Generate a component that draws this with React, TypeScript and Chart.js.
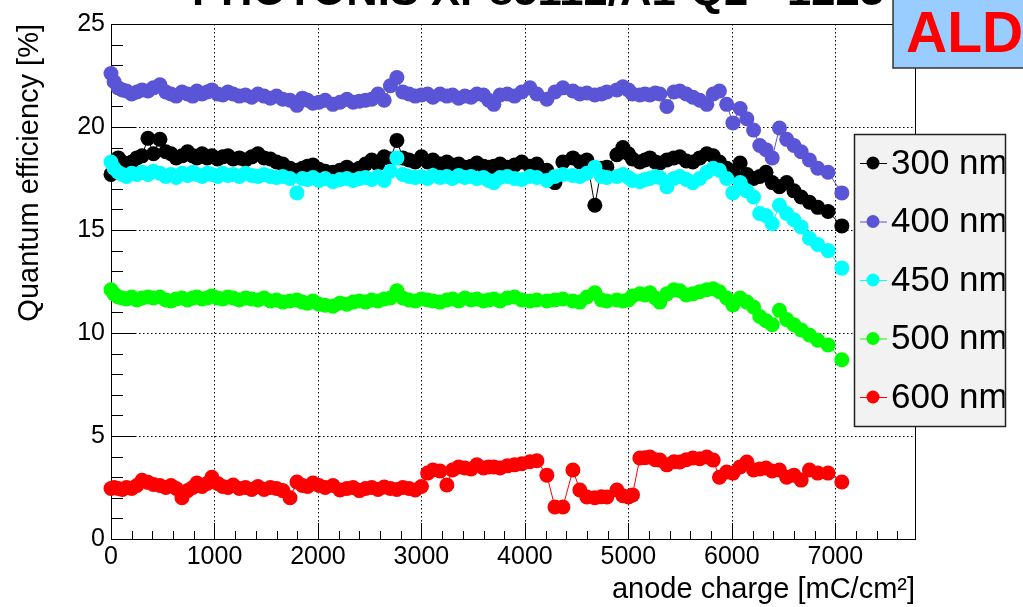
import React, { useEffect, useRef } from "react";
import { Chart, registerables } from "chart.js";

Chart.register(...registerables);

// ---------------- data ----------------
const charge = [
  0, 30, 70, 110, 150, 200, 250, 300, 357, 410,
  473, 530, 580, 630, 686, 740, 790, 830, 880, 930,
  975, 1030, 1080, 1130, 1180, 1240, 1300, 1360, 1420, 1480,
  1540, 1600, 1660, 1730, 1797, 1850, 1900, 1952, 2010, 2070,
  2145, 2213, 2280, 2340, 2400, 2460, 2520, 2580, 2640, 2700,
  2763, 2820, 2880, 2940, 3000, 3060, 3111, 3180, 3246, 3300,
  3360, 3420, 3480, 3536, 3600, 3650, 3700, 3760, 3830, 3900,
  3970, 4048, 4116, 4212, 4290, 4367, 4464, 4531, 4599, 4676,
  4740, 4792, 4889, 4947, 5000, 5040, 5111, 5160, 5208, 5260,
  5304, 5372, 5440, 5497, 5560, 5623, 5690, 5758, 5820, 5880,
  5950, 6010, 6080, 6145, 6210, 6270, 6330, 6390, 6460, 6530,
  6600, 6670, 6750, 6830, 6930, 7063,
];

const qe300 = [
  17.7, 18.3, 18.5, 18.3, 18.2, 18.3, 18.5, 18.6, 19.45, 18.7,
  19.4, 18.8, 18.7, 18.5, 18.6, 18.8, 18.6, 18.5, 18.7, 18.5,
  18.6, 18.45, 18.55, 18.6, 18.45, 18.5, 18.4, 18.55, 18.7, 18.5,
  18.45, 18.3, 18.2, 18.0, 17.9, 18.0, 18.1, 18.15, 17.95, 17.85,
  17.8, 17.9, 18.05, 17.9, 18.0, 18.2, 18.4, 18.2, 18.55, 18.45,
  19.35, 18.5, 18.4, 18.3, 18.55, 18.3, 18.4, 18.2, 18.3, 18.15,
  18.2, 18.05, 18.1, 18.25, 18.1, 18.05, 18.1, 18.2, 18.05, 18.15,
  18.3, 18.1, 18.2, 17.9, 17.3, 18.3, 18.5, 18.3, 18.4, 16.2,
  18.0, 18.05, 18.65, 19.0, 18.7, 18.45, 18.3, 18.4, 18.5, 18.3,
  18.25, 18.4, 18.5, 18.55, 18.35, 18.3, 18.5, 18.7, 18.6, 18.3,
  18.0, 17.8, 18.25, 17.7, 17.5, 17.6, 17.8, 17.3, 17.1, 17.3,
  16.9, 16.6, 16.35, 16.1, 15.9, 15.2,
];

const qe400 = [
  22.6, 22.2, 21.9, 21.8, 21.75, 21.6, 21.7, 21.8, 21.75, 21.9,
  22.05, 21.7, 21.6, 21.5, 21.7, 21.6, 21.5, 21.75, 21.6, 21.7,
  21.8, 21.6, 21.55, 21.7, 21.6, 21.5, 21.55, 21.45, 21.6, 21.5,
  21.4, 21.5, 21.35, 21.3, 21.05, 21.4, 21.3, 21.15, 21.2, 21.3,
  21.1, 21.2, 21.35, 21.2, 21.25, 21.3, 21.35, 21.6, 21.3, 22.0,
  22.4, 21.7, 21.6, 21.5, 21.55, 21.6, 21.45, 21.6, 21.5, 21.55,
  21.4, 21.5, 21.45, 21.6, 21.55, 21.3, 21.1, 21.55, 21.6, 21.5,
  21.7, 21.9, 21.6, 21.35, 21.7, 21.9, 21.75, 21.6, 21.65, 21.55,
  21.6, 21.7, 21.8, 21.95, 21.8, 21.6, 21.55, 21.6, 21.55, 21.65,
  21.6, 21.0, 21.7, 21.75, 21.6, 21.45, 21.3, 21.1, 21.6, 21.75,
  21.1, 20.2, 20.9, 20.4, 19.85, 19.1, 18.9, 18.5, 19.95, 19.4,
  19.1, 18.8, 18.4, 18.0, 17.8, 16.8,
];

const qe450 = [
  18.3, 18.0, 17.8, 17.7, 17.6, 17.75, 17.7, 17.8, 17.7, 17.85,
  17.75, 17.6, 17.7, 17.55, 17.75, 17.65, 17.8, 17.7, 17.6, 17.75,
  17.7, 17.6, 17.75, 17.65, 17.7, 17.6, 17.75, 17.65, 17.6, 17.7,
  17.6, 17.55, 17.6, 17.5, 16.8, 17.5, 17.45, 17.55, 17.4, 17.5,
  17.35, 17.45, 17.5, 17.4, 17.5, 17.55, 17.45, 17.6, 17.4, 17.85,
  18.5, 17.7, 17.6, 17.55, 17.6, 17.5, 17.65, 17.55, 17.6, 17.5,
  17.65, 17.55, 17.6, 17.5, 17.55, 17.4, 17.3, 17.55, 17.6, 17.5,
  17.45, 17.6, 17.55, 17.4, 17.6, 17.7, 17.65, 17.6, 17.75, 18.05,
  17.6, 17.55, 17.6, 17.7, 17.55, 17.4, 17.35, 17.45, 17.5, 17.6,
  17.55, 17.1, 17.5, 17.6, 17.45, 17.3, 17.5, 17.8, 18.0, 17.9,
  17.5, 16.8, 17.3, 16.9, 16.6, 15.8, 15.7, 15.3, 16.2, 15.8,
  15.5, 15.15, 14.6, 14.3, 14.0, 13.15,
];

const qe500 = [
  12.1, 11.9, 11.75, 11.7, 11.65, 11.75, 11.6, 11.7, 11.75, 11.7,
  11.75, 11.6, 11.55, 11.65, 11.7, 11.6, 11.7, 11.75, 11.65, 11.7,
  11.8, 11.7, 11.65, 11.75, 11.7, 11.6, 11.7, 11.65, 11.6, 11.7,
  11.55, 11.6, 11.5, 11.55, 11.6, 11.5, 11.45, 11.55, 11.4, 11.35,
  11.3, 11.45, 11.4, 11.5, 11.55, 11.5, 11.6, 11.55, 11.65, 11.7,
  12.05, 11.7, 11.6, 11.55, 11.65, 11.6, 11.55, 11.5, 11.6, 11.65,
  11.55, 11.7, 11.6, 11.65, 11.55, 11.6, 11.65, 11.55, 11.7, 11.75,
  11.6, 11.55, 11.6, 11.55, 11.6, 11.65, 11.55, 11.5, 11.75, 11.95,
  11.6, 11.55, 11.6, 11.55, 11.6, 11.8, 11.9, 11.85, 11.95, 11.7,
  11.5, 11.9, 12.1, 12.05, 11.85, 11.9, 12.0, 12.1, 12.15, 12.0,
  11.7, 11.36, 11.7, 11.5, 11.26, 10.8, 10.6, 10.4, 11.1, 10.65,
  10.4, 10.15, 9.9, 9.65, 9.42, 8.7,
];

const qe600 = [
  2.45, 2.5, 2.45, 2.4, 2.5, 2.45, 2.6, 2.85, 2.75, 2.65,
  2.6, 2.5, 2.6, 2.45, 2.0, 2.35, 2.5, 2.72, 2.55, 2.7,
  3.0, 2.7, 2.55, 2.5, 2.62, 2.45, 2.5, 2.4, 2.55, 2.4,
  2.5, 2.45, 2.35, 2.0, 2.77, 2.6, 2.55, 2.72, 2.6, 2.5,
  2.6, 2.38, 2.45, 2.5, 2.35, 2.45, 2.5, 2.4, 2.52, 2.45,
  2.4, 2.5, 2.45, 2.38, 2.55, 3.2, 3.35, 3.3, 2.62, 3.35,
  3.5, 3.45, 3.4, 3.6, 3.45, 3.5, 3.5, 3.45, 3.55, 3.6,
  3.65, 3.75, 3.8, 3.1, 1.55, 1.55, 3.35, 2.38, 2.04, 2.0,
  2.05, 2.04, 2.38, 2.1, 2.04, 2.14, 3.93, 3.95, 3.98, 3.85,
  3.83, 3.6, 3.75, 3.74, 3.85, 3.93, 3.9, 3.98, 3.83, 3.0,
  3.25, 3.2, 3.5, 3.74, 3.35, 3.4, 3.45, 3.3, 3.35, 3.0,
  3.1, 2.86, 3.35, 3.2, 3.2, 2.77,
];

const seriesLabels = ["300 nm", "400 nm", "450 nm", "500 nm", "600 nm"];
const seriesValues = [qe300, qe400, qe450, qe500, qe600];
const seriesColors = ["#000000", "#5a54d6", "#00ffff", "#00ff00", "#ff0000"];

const xTickValues = [0, 1000, 2000, 3000, 4000, 5000, 6000, 7000];
const yTickValues = [0, 5, 10, 15, 20, 25];
const X_MIN = 0;
const X_MAX = 7770;
const Y_MIN = 0;
const Y_MAX = 25;
const X_MINOR_STEP = 200;
const Y_MINOR_STEP = 1;

const titleText = "PHOTONIS XP85112/A1-Q2 - 1223";
const badgeText = "ALD";
const xTitle = "anode charge [mC/cm\u00b2]";
const yTitle = "Quantum efficiency [%]";

const FONT = '"Liberation Sans", Arial, Helvetica, sans-serif';
const MARKER_R = 7.5;

// ---------------- plugins ----------------
const framePlugin = {
  id: "rootFrame",
  beforeDatasetsDraw(chart: any) {
    const { ctx, chartArea: a, scales } = chart;
    const xs = scales.x;
    const ys = scales.y;
    ctx.save();
    // dotted grid
    ctx.strokeStyle = "#000";
    ctx.lineWidth = 1;
    ctx.setLineDash([1.5, 2.5]);
    ctx.beginPath();
    xTickValues.forEach((v) => {
      const px = Math.round(xs.getPixelForValue(v)) + 0.5;
      if (px > a.left + 2 && px < a.right - 2) {
        ctx.moveTo(px, a.top);
        ctx.lineTo(px, a.bottom);
      }
    });
    yTickValues.forEach((v) => {
      const py = Math.round(ys.getPixelForValue(v)) + 0.5;
      if (py > a.top + 2 && py < a.bottom - 2) {
        ctx.moveTo(a.left, py);
        ctx.lineTo(a.right, py);
      }
    });
    ctx.stroke();
    ctx.setLineDash([]);

    // ticks (inside the frame)
    ctx.strokeStyle = "#000";
    ctx.lineWidth = 1;
    ctx.beginPath();
    const xMajorLen = 16;
    const yMajorLen = 24;
    for (let v = X_MIN; v <= X_MAX + 1e-6; v += X_MINOR_STEP) {
      const px = Math.round(xs.getPixelForValue(v)) + 0.5;
      const major = Math.abs(v % 1000) < 1e-6;
      const len = major ? xMajorLen : xMajorLen / 2;
      ctx.moveTo(px, a.bottom);
      ctx.lineTo(px, a.bottom - len);
    }
    for (let v = Y_MIN; v <= Y_MAX + 1e-6; v += Y_MINOR_STEP) {
      const py = Math.round(ys.getPixelForValue(v)) + 0.5;
      const major = Math.abs(v % 5) < 1e-6;
      const len = major ? yMajorLen : yMajorLen / 2;
      ctx.moveTo(a.left, py);
      ctx.lineTo(a.left + len, py);
    }
    ctx.stroke();

    // frame
    ctx.strokeStyle = "#000";
    ctx.lineWidth = 1;
    ctx.strokeRect(a.left + 0.5, a.top + 0.5, a.right - a.left, a.bottom - a.top);
    ctx.restore();
  },
  afterDraw(chart: any) {
    const { ctx } = chart;
    ctx.save();

    // title (mostly cut off at the top of the picture)
    ctx.font = `bold 40px ${FONT}`;
    const w40 = ctx.measureText(titleText).width;
    const size = (40 * 692) / w40;
    ctx.font = `bold ${size}px ${FONT}`;
    ctx.fillStyle = "#000";
    ctx.textAlign = "left";
    ctx.textBaseline = "alphabetic";
    ctx.fillText(titleText, 192, 5);

    // ALD badge
    ctx.fillStyle = "#99ccff";
    ctx.fillRect(893, -2, 140, 70);
    ctx.strokeStyle = "#333";
    ctx.lineWidth = 1.5;
    ctx.beginPath();
    ctx.moveTo(893, -2);
    ctx.lineTo(893, 68);
    ctx.lineTo(1030, 68);
    ctx.stroke();
    ctx.fillStyle = "#ff0000";
    ctx.font = `bold 57px ${FONT}`;
    ctx.textBaseline = "alphabetic";
    ctx.fillText(badgeText, 906, 52);

    // legend
    const lx = 854.5, ly = 134.5, lw = 151, lh = 292;
    ctx.fillStyle = "#f2f2f2";
    ctx.fillRect(lx, ly, lw, lh);
    ctx.strokeStyle = "#222";
    ctx.lineWidth = 1.5;
    ctx.strokeRect(lx, ly, lw, lh);
    ctx.save();
    ctx.beginPath();
    ctx.rect(lx, ly, lw - 1, lh);
    ctx.clip();
    seriesLabels.forEach((label, i) => {
      const cy = 163 + i * 58.5;
      ctx.strokeStyle = seriesColors[i];
      ctx.lineWidth = 1;
      ctx.beginPath();
      ctx.moveTo(860, cy + 0.5);
      ctx.lineTo(887, cy + 0.5);
      ctx.stroke();
      ctx.fillStyle = seriesColors[i];
      ctx.beginPath();
      ctx.arc(873, cy, 6.5, 0, Math.PI * 2);
      ctx.fill();
      ctx.fillStyle = "#000";
      ctx.font = `35px ${FONT}`;
      ctx.textAlign = "left";
      ctx.textBaseline = "middle";
      ctx.fillText(label, 891, cy + 1);
    });
    ctx.restore();

    ctx.restore();
  },
};

export default function App() {
  const ref = useRef<HTMLCanvasElement>(null);

  useEffect(() => {
    document.body.style.margin = "0";
    const canvas = ref.current;
    if (!canvas) return;

    const order = [4, 3, 2, 1, 0]; // 600 nm top-most, 300 nm drawn first
    const datasets = order.map((i) => ({
      label: seriesLabels[i],
      data: charge.map((x, k) => ({ x, y: seriesValues[i][k] })),
      borderColor: seriesColors[i],
      backgroundColor: seriesColors[i],
      pointBackgroundColor: seriesColors[i],
      pointBorderWidth: 0,
      pointRadius: MARKER_R,
      pointHoverRadius: MARKER_R,
      borderWidth: 1,
      tension: 0,
      showLine: true,
      fill: false,
      clip: false as any,
    }));

    const chart = new Chart(canvas, {
      type: "line",
      data: { datasets },
      plugins: [framePlugin],
      options: {
        animation: false,
        responsive: false,
        devicePixelRatio: 1,
        events: [],
        layout: { padding: { left: 0, top: 24, right: 108, bottom: 0 } },
        plugins: {
          legend: { display: false },
          tooltip: { enabled: false },
          title: { display: false },
        },
        scales: {
          x: {
            type: "linear",
            min: X_MIN,
            max: X_MAX,
            grid: { display: false, drawTicks: false },
            border: { display: false },
            afterBuildTicks: (scale: any) => {
              scale.ticks = xTickValues.map((v) => ({ value: v }));
            },
            afterFit: (scale: any) => {
              scale.height = 68;
            },
            ticks: {
              autoSkip: false,
              maxRotation: 0,
              minRotation: 0,
              padding: 3,
              color: "#000",
              font: { family: FONT, size: 25 },
              callback: (v: any) => String(v),
            },
            title: {
              display: true,
              text: xTitle,
              align: "end",
              color: "#000",
              font: { family: FONT, size: 29 },
              padding: { top: 0, bottom: 0 },
            },
          },
          y: {
            type: "linear",
            min: Y_MIN,
            max: Y_MAX,
            grid: { display: false, drawTicks: false },
            border: { display: false },
            afterBuildTicks: (scale: any) => {
              scale.ticks = yTickValues.map((v) => ({ value: v }));
            },
            afterFit: (scale: any) => {
              scale.width = 111;
            },
            ticks: {
              padding: 6,
              color: "#000",
              font: { family: FONT, size: 25 },
              callback: (v: any) => String(v),
            },
            title: {
              display: true,
              text: yTitle,
              align: "end",
              color: "#000",
              font: { family: FONT, size: 29 },
              padding: { top: 13, bottom: 0 },
            },
          },
        },
      } as any,
    });

    return () => chart.destroy();
  }, []);

  return (
    <div style={{ position: "absolute", left: 0, top: 0, width: 1023, height: 607, background: "#fff" }}>
      <canvas ref={ref} width={1023} height={607} style={{ display: "block", width: 1023, height: 607 }} />
    </div>
  );
}
